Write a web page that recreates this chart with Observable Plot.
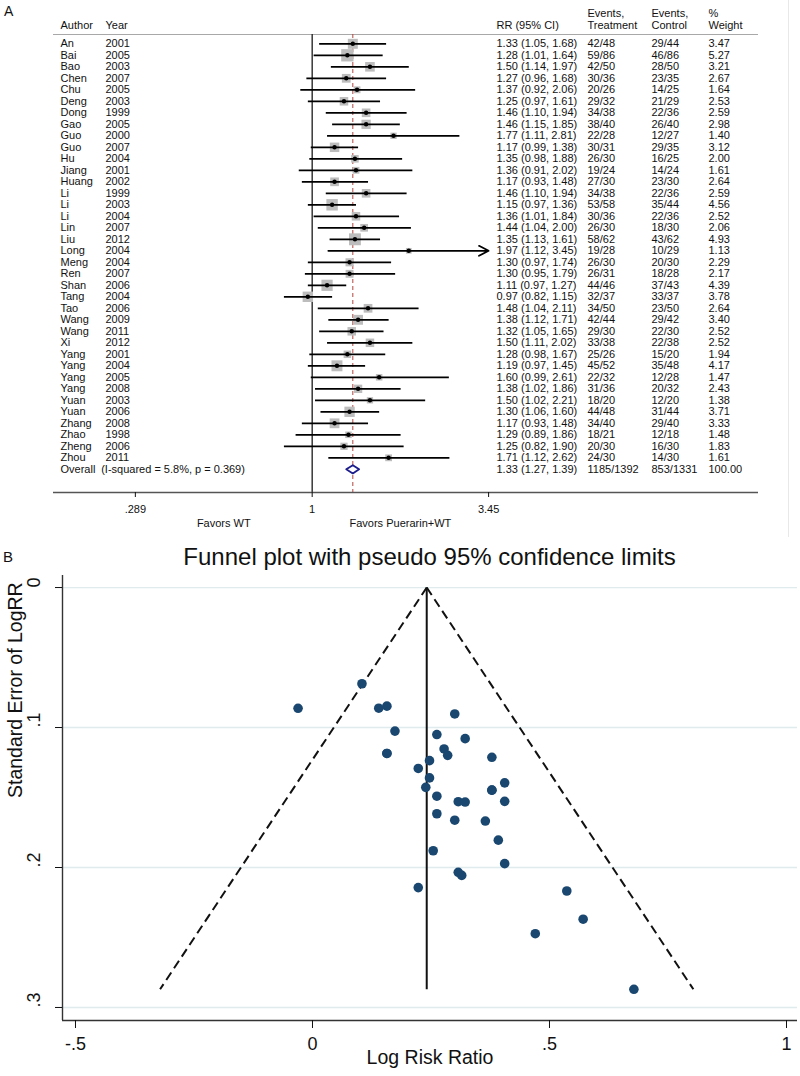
<!DOCTYPE html>
<html><head><meta charset="utf-8">
<script src="https://cdn.jsdelivr.net/npm/d3@7"></script>
<script src="https://cdn.jsdelivr.net/npm/@observablehq/plot@0.6"></script>
<style>
body{margin:0;background:#fff;font-family:"Liberation Sans",Arial,sans-serif;}
#wrap{position:relative;width:800px;height:1076px;overflow:hidden;background:#fff}
#panelA{position:absolute;left:0;top:0;width:800px;height:540px;}
#borderA{position:absolute;left:0;top:0;width:788px;height:537px;border-right:1px solid #e8e8e8;pointer-events:none}
#labA{position:absolute;left:4px;top:3px;font-size:14px;color:#111}
#titleB{position:absolute;left:0;top:540px;width:800px;height:34px}
#labB{position:absolute;left:3px;top:0;line-height:34px;font-size:15px;color:#111}
#ttlB{position:absolute;left:62px;width:735px;top:0;line-height:34px;text-align:center;font-size:24px;color:#111}
#panelB{position:absolute;left:0;top:574px;width:800px;height:502px}
svg{display:block}
</style></head>
<body>
<div id="wrap">
  <div id="panelA"></div>
  <div id="borderA"></div>
  <div id="labA">A</div>
  <div id="titleB"><div id="labB">B</div><div id="ttlB">Funnel plot with pseudo 95% confidence limits</div></div>
  <div id="panelB"></div>
</div>
<script>
// ---------- Data ----------
const authors = ["An","Bai","Bao","Chen","Chu","Deng","Dong","Gao","Guo","Guo","Hu","Jiang","Huang","Li","Li","Li","Lin","Liu","Long","Meng","Ren","Shan","Tang","Tao","Wang","Wang","Xi","Yang","Yang","Yang","Yang","Yuan","Yuan","Zhang","Zhao","Zheng","Zhou"];
const years = [2001,2005,2003,2007,2005,2003,1999,2005,2000,2007,2004,2001,2002,1999,2003,2004,2007,2012,2004,2004,2007,2006,2004,2006,2009,2011,2012,2001,2004,2005,2008,2003,2006,2008,1998,2006,2011];
const rr = [1.33,1.28,1.50,1.27,1.37,1.25,1.46,1.46,1.77,1.17,1.35,1.36,1.17,1.46,1.15,1.36,1.44,1.35,1.97,1.30,1.30,1.11,0.97,1.48,1.38,1.32,1.50,1.28,1.19,1.60,1.38,1.50,1.30,1.17,1.29,1.25,1.71];
const ciLow = [1.05,1.01,1.14,0.96,0.92,0.97,1.10,1.15,1.11,0.99,0.98,0.91,0.93,1.10,0.97,1.01,1.04,1.13,1.12,0.97,0.95,0.97,0.82,1.04,1.12,1.05,1.11,0.98,0.97,0.99,1.02,1.02,1.06,0.93,0.89,0.82,1.12];
const ciHigh = [1.68,1.64,1.97,1.68,2.06,1.61,1.94,1.85,2.81,1.38,1.88,2.02,1.48,1.94,1.36,1.84,2.00,1.61,3.45,1.74,1.79,1.27,1.15,2.11,1.71,1.65,2.02,1.67,1.45,2.61,1.86,2.21,1.60,1.48,1.86,1.90,2.62];
const treatEvents = ["42/48","59/86","42/50","30/36","20/26","29/32","34/38","38/40","22/28","30/31","26/30","19/24","27/30","34/38","53/58","30/36","26/30","58/62","19/28","26/30","26/31","44/46","32/37","34/50","42/44","29/30","33/38","25/26","45/52","22/32","31/36","18/20","44/48","34/40","18/21","20/30","24/30"];
const ctrlEvents = ["29/44","46/86","28/50","23/35","14/25","21/29","22/36","26/40","12/27","29/35","16/25","14/24","23/30","22/36","35/44","22/36","18/30","43/62","10/29","20/30","18/28","37/43","33/37","23/50","29/42","22/30","22/38","15/20","35/48","12/28","20/32","12/20","31/44","29/40","12/18","16/30","14/30"];
const weights = [3.47,5.27,3.21,2.67,1.64,2.53,2.59,2.98,1.40,3.12,2.00,1.61,2.64,2.59,4.56,2.52,2.06,4.93,1.13,2.29,2.17,4.39,3.78,2.64,3.40,2.52,2.52,1.94,4.17,1.47,2.43,1.38,3.71,3.33,1.48,1.83,1.61];
const overallLabel = "Overall";
const overallNote = "(I-squared = 5.8%, p = 0.369)";
const overallRR = 1.33, overallLow = 1.27, overallHigh = 1.39;
const overallTreat = "1185/1392", overallCtrl = "853/1331", overallWeight = "100.00";
const xTicksA = [0.289, 1, 3.45];
const xTickLabelsA = [".289", "1", "3.45"];
const favorsLabels = ["Favors WT", "Favors Puerarin+WT"];
const funnelCenter = 0.241;
const xTicksB = [-0.5, 0, 0.5, 1];
const xTickLabelsB = ["-.5", "0", ".5", "1"];
const yTicksB = [0, 0.1, 0.2, 0.3];
const yTickLabelsB = ["0", ".1", ".2", ".3"];
const xTitleB = "Log Risk Ratio";
const yTitleB = "Standard Error of LogRR";

// ---------- Panel A: forest plot ----------
const f2 = v => v.toFixed(2);
const rows = authors.map((a, i) => ({
  i, author: a, year: String(years[i]), rr: rr[i], lo: ciLow[i], hi: ciHigh[i],
  treat: treatEvents[i], ctrl: ctrlEvents[i], weight: weights[i],
  ci: `${f2(rr[i])} (${f2(ciLow[i])}, ${f2(ciHigh[i])})`, wtext: f2(weights[i])
}));
const oi = rows.length;
const overallRow = {i: oi, author: overallLabel, ci: `${f2(overallRR)} (${f2(overallLow)}, ${f2(overallHigh)})`,
  treat: overallTreat, ctrl: overallCtrl, wtext: overallWeight};
const allRows = rows.concat([overallRow]);
const xMaxA = d3.max(xTicksA);
const diamond = [
  {x: overallLow, y: oi}, {x: overallRR, y: oi - 0.36}, {x: overallHigh, y: oi},
  {x: overallRR, y: oi + 0.36}, {x: overallLow, y: oi}
];
const yDomA = [-0.809, 39.017];
const ink = "#111";
const colText = (data, field, anchor, dx) =>
  Plot.text(data, {y: "i", text: field, frameAnchor: anchor, dx, textAnchor: "start", fill: ink});
const head = (t, anchor, dx, dy) =>
  Plot.text([t], {frameAnchor: anchor, dx, dy, textAnchor: "start", fill: ink});

const plotA = Plot.plot({
  width: 800, height: 540,
  marginTop: 34, marginBottom: 48, marginLeft: 53, marginRight: 42,
  style: "font-family:'Liberation Sans',Arial,sans-serif;font-size:11px;color:#111;background:transparent;overflow:visible;",
  x: {type: "log", domain: [0.1627, 22.94], label: null},
  y: {domain: yDomA, reverse: true, axis: null},
  r: {type: "sqrt", domain: [0, d3.max(weights)], range: [0, 12.3 / Math.sqrt(Math.PI)]},
  marks: [
    Plot.ruleY([yDomA[0]], {stroke: "#a8a8a8", strokeWidth: 1.2}),
    Plot.ruleX([1], {stroke: "#2a2a2a", strokeWidth: 1.4}),
    Plot.ruleX([overallRR], {stroke: "#b5433f", strokeWidth: 1, strokeDasharray: "4,3"}),
    Plot.dot(rows, {x: "rr", y: "i", r: "weight", symbol: "square", fill: "#bdbdbd"}),
    Plot.link(rows.filter(d => d.hi < xMaxA), {x1: "lo", x2: "hi", y1: "i", y2: "i", stroke: "#000", strokeWidth: 1.8}),
    Plot.arrow(rows.filter(d => d.hi >= xMaxA), {x1: "lo", x2: "hi", y1: "i", y2: "i", stroke: "#000", strokeWidth: 1.8, headLength: 9, headAngle: 55}),
    Plot.dot(rows, {x: "rr", y: "i", r: 2.2, fill: "#000"}),
    Plot.line(diamond, {x: "x", y: "y", stroke: "#1c1c8c", strokeWidth: 1.8, fill: "white"}),
    // table columns
    colText(allRows, "author", "left", 7),
    colText(rows, "year", "left", 52),
    Plot.text([overallNote], {y: [oi], frameAnchor: "left", dx: 47.7, textAnchor: "start", fill: ink}),
    colText(allRows, "ci", "right", -262),
    colText(allRows, "treat", "right", -171),
    colText(allRows, "ctrl", "right", -107),
    colText(allRows, "wtext", "right", -50),
    // headers
    head("Author", "top-left", 7, -13),
    head("Year", "top-left", 52, -13),
    head("RR (95% CI)", "top-right", -262, -13),
    head("Events,", "top-right", -171, -25),
    head("Treatment", "top-right", -171, -13),
    head("Events,", "top-right", -107, -25),
    head("Control", "top-right", -107, -13),
    head("%", "top-right", -50, -25),
    head("Weight", "top-right", -50, -13),
    // axis
    Plot.ruleY([yDomA[1]], {stroke: "#555", strokeWidth: 1.3}),
    Plot.axisX({ticks: xTicksA, tickFormat: d => xTickLabelsA[xTicksA.indexOf(d)], tickSize: 5, tickPadding: 8, label: null, fill: ink}),
    Plot.text(favorsLabels, {
      x: (d, i) => Math.sqrt(xTicksA[i] * xTicksA[i + 1]),
      frameAnchor: "bottom", dy: 34, fill: ink
    })
  ]
});
document.getElementById("panelA").appendChild(plotA);

// ---------- Panel B: funnel plot ----------
const studies = rr.map((v, i) => ({
  logrr: Math.log(v),
  se: (Math.log(ciHigh[i]) - Math.log(ciLow[i])) / (2 * 1.96)
}));
const seMax = d3.max(studies, d => d.se);
const funnelEdges = [
  {x1: funnelCenter, y1: 0, x2: funnelCenter - 1.96 * seMax, y2: seMax},
  {x1: funnelCenter, y1: 0, x2: funnelCenter + 1.96 * seMax, y2: seMax}
];
const xDomB = [-0.5274, 1.0232];
const yDomB = [-0.0086, 0.3093];

const plotB = Plot.plot({
  width: 800, height: 502,
  marginTop: 1, marginBottom: 56, marginLeft: 62, marginRight: 3,
  style: "font-family:'Liberation Sans',Arial,sans-serif;font-size:18px;color:#111;background:transparent;overflow:visible;",
  x: {domain: xDomB, label: null},
  y: {domain: yDomB, reverse: true, label: null},
  marks: [
    Plot.ruleY(yTicksB, {stroke: "#e0ebee", strokeWidth: 1.3}),
    Plot.ruleX([xDomB[0]], {stroke: "#333", strokeWidth: 1.4}),
    Plot.ruleY([yDomB[1]], {stroke: "#333", strokeWidth: 1.4}),
    Plot.axisX({ticks: xTicksB, tickFormat: d => xTickLabelsB[xTicksB.indexOf(d)], tickSize: 8, tickPadding: 9, label: null, fontSize: 18, fill: ink}),
    Plot.axisY({ticks: yTicksB, tickFormat: () => "", tickSize: 7, label: null}),
    Plot.text(yTicksB, {y: d => d, text: (d, i) => yTickLabelsB[i], frameAnchor: "left", dx: -28, rotate: -90, fontSize: 18, fill: ink}),
    Plot.text([yTitleB], {frameAnchor: "left", dx: -47, rotate: -90, fontSize: 19.5, fill: ink}),
    Plot.text([xTitleB], {frameAnchor: "bottom", dy: 43, fontSize: 19.5, fill: ink}),
    Plot.link(funnelEdges, {x1: "x1", y1: "y1", x2: "x2", y2: "y2", stroke: "#111", strokeWidth: 2, strokeDasharray: "9,5"}),
    Plot.link([{x: funnelCenter, y1: 0, y2: seMax}], {x1: "x", x2: "x", y1: "y1", y2: "y2", stroke: "#111", strokeWidth: 2}),
    Plot.dot(studies, {x: "logrr", y: "se", r: 4.8, fill: "#1a476f"})
  ]
});
document.getElementById("panelB").appendChild(plotB);
</script>
</body></html>
